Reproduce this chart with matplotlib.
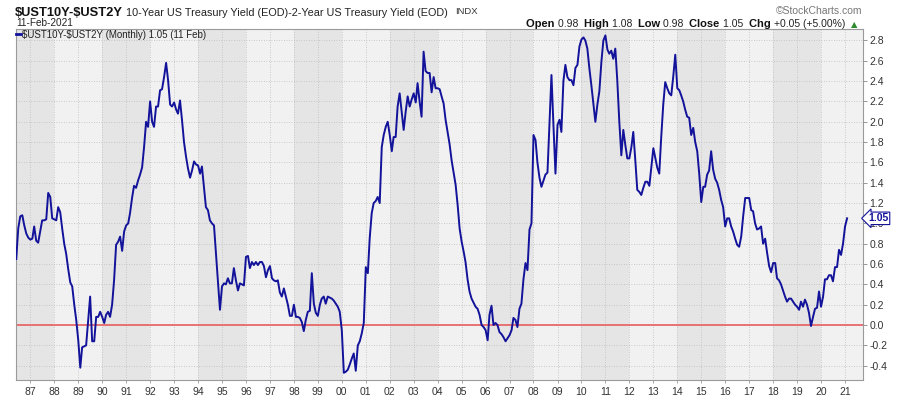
import matplotlib
matplotlib.use("Agg")
import matplotlib.pyplot as plt
import matplotlib.dates as mdates
from matplotlib.lines import Line2D
import numpy as np
import pandas as pd

# 10Y-2Y spread, month-end closes, from Jun 1986 to Feb 2021
start_month = "1986-06"
spread = [
    0.65, 0.95, 1.07, 1.08, 0.98, 0.90, 0.86,                            # 1986 (Jun-Dec)
    0.84, 0.85, 0.97, 0.83, 0.81, 0.92, 1.03, 1.03, 1.04, 1.30, 1.26, 1.05,  # 1987
    1.04, 1.03, 1.16, 1.11, 0.95, 0.80, 0.70, 0.55, 0.42, 0.38, 0.20, 0.05,  # 1988
    -0.15, -0.42, -0.22, -0.21, -0.20, 0.05, 0.28, -0.16, -0.16, 0.08, 0.08, 0.13,  # 1989
    0.08, 0.02, 0.10, 0.13, 0.08, 0.20, 0.44, 0.79, 0.82, 0.87, 0.73, 0.92,  # 1990
    0.98, 1.00, 1.10, 1.25, 1.37, 1.35, 1.42, 1.48, 1.55, 1.75, 2.00, 1.95,  # 1991
    2.20, 2.00, 1.95, 2.15, 2.15, 2.31, 2.32, 2.44, 2.58, 2.41, 2.17, 2.15,  # 1992
    2.19, 2.12, 2.08, 2.21, 2.02, 1.80, 1.66, 1.54, 1.45, 1.52, 1.61, 1.58,  # 1993
    1.57, 1.49, 1.56, 1.36, 1.16, 1.13, 1.03, 1.00, 0.98, 0.70, 0.42, 0.15,  # 1994
    0.38, 0.41, 0.40, 0.46, 0.41, 0.41, 0.56, 0.44, 0.34, 0.41, 0.40, 0.39,  # 1995
    0.67, 0.68, 0.56, 0.62, 0.59, 0.62, 0.59, 0.62, 0.62, 0.58, 0.47, 0.54,  # 1996
    0.58, 0.46, 0.44, 0.43, 0.44, 0.32, 0.28, 0.36, 0.28, 0.20, 0.09, 0.09,  # 1997
    0.20, 0.08, 0.08, 0.07, 0.03, -0.06, 0.05, 0.13, 0.14, 0.51, 0.21, 0.12,  # 1998
    0.09, 0.20, 0.26, 0.28, 0.21, 0.28, 0.27, 0.26, 0.24, 0.21, 0.18, 0.13,  # 1999
    -0.05, -0.47, -0.46, -0.44, -0.39, -0.33, -0.28, -0.45, -0.20, -0.16, -0.08, 0.02,  # 2000
    0.57, 0.51, 0.85, 1.10, 1.20, 1.22, 1.26, 1.20, 1.75, 1.87, 1.95, 2.00,  # 2001
    1.87, 1.71, 1.85, 1.85, 2.15, 2.28, 2.10, 1.92, 2.10, 2.25, 2.15, 2.22,  # 2002
    2.28, 2.19, 2.38, 2.20, 2.05, 2.69, 2.50, 2.48, 2.48, 2.29, 2.44, 2.33,  # 2003
    2.33, 2.32, 2.25, 2.18, 2.02, 1.90, 1.78, 1.62, 1.50, 1.38, 1.18, 0.95,  # 2004
    0.82, 0.72, 0.62, 0.45, 0.33, 0.26, 0.22, 0.18, 0.16, 0.10, 0.00, -0.02,  # 2005
    -0.05, -0.15, 0.10, 0.19, 0.00, 0.02, 0.00, -0.07, -0.09, -0.12, -0.16, -0.13,  # 2006
    -0.10, -0.05, 0.07, 0.05, -0.02, 0.16, 0.21, 0.45, 0.61, 0.54, 0.94, 1.00,  # 2007
    1.87, 1.82, 1.60, 1.45, 1.36, 1.42, 1.48, 1.50, 2.00, 2.46, 1.95, 1.49,  # 2008
    1.97, 2.02, 1.90, 2.40, 2.56, 2.44, 2.41, 2.41, 2.36, 2.53, 2.56, 2.74,  # 2009
    2.81, 2.83, 2.80, 2.72, 2.53, 2.36, 2.18, 2.00, 2.17, 2.30, 2.59, 2.80,  # 2010
    2.85, 2.71, 2.67, 2.70, 2.62, 2.72, 2.41, 2.00, 1.67, 1.92, 1.77, 1.64,  # 2011
    1.64, 1.75, 1.90, 1.62, 1.33, 1.31, 1.28, 1.35, 1.41, 1.41, 1.37, 1.55,  # 2012
    1.74, 1.64, 1.55, 1.49, 1.85, 2.17, 2.39, 2.33, 2.28, 2.26, 2.45, 2.66,  # 2013
    2.33, 2.31, 2.26, 2.20, 2.12, 2.05, 2.04, 1.87, 1.94, 1.80, 1.71, 1.49,  # 2014
    1.21, 1.36, 1.36, 1.48, 1.52, 1.71, 1.53, 1.44, 1.40, 1.33, 1.23, 1.16,  # 2015
    0.97, 1.05, 1.05, 0.97, 0.92, 0.85, 0.79, 0.77, 0.87, 1.07, 1.25, 1.25,  # 2016
    1.25, 1.13, 1.12, 1.00, 0.94, 0.95, 0.97, 0.80, 0.85, 0.71, 0.58, 0.52,  # 2017
    0.61, 0.61, 0.46, 0.44, 0.40, 0.34, 0.28, 0.23, 0.26, 0.26, 0.23, 0.20,  # 2018
    0.18, 0.15, 0.23, 0.18, 0.25, 0.20, 0.12, -0.01, 0.08, 0.16, 0.17, 0.33,  # 2019
    0.18, 0.28, 0.45, 0.45, 0.49, 0.49, 0.43, 0.57, 0.57, 0.74, 0.69, 0.80,  # 2020
    0.97, 1.05,                                                          # 2021 (Jan-Feb)
]

symbol = "$UST10Y-$UST2Y"
title_desc = "10-Year US Treasury Yield (EOD)-2-Year US Treasury Yield (EOD)"
exchange = "INDX"
date_label = "11-Feb-2021"
ohlc_names = ["Open", "High", "Low", "Close", "Chg"]
ohlc_values = ["0.98", "1.08", "0.98", "1.05", "+0.05 (+5.00%)"]
legend_label = "$UST10Y-$UST2Y (Monthly) 1.05 (11 Feb)"

W, H = 900, 396
line_color = "#12129a"
font = ["Liberation Sans", "DejaVu Sans"]
plt.rcParams["font.family"] = font

fig = plt.figure(figsize=(W / 100, H / 100), dpi=100)
fig.patch.set_facecolor("white")
ax = fig.add_axes([16 / W, 1 - 380 / H, (862.7 - 16) / W, (380 - 29) / H])
ax.set_facecolor("#f1f1f1")

dates = pd.date_range(start_month, periods=len(spread), freq="MS")

# alternating two-year shading
for y in range(1986, 2022, 4):
    ax.axvspan(pd.Timestamp(f"{y}-01-01"), pd.Timestamp(f"{y + 2}-01-01"),
               color="#e5e5e5", lw=0, zorder=0)

ax.axhline(0, color="#e8686a", lw=1.3, zorder=2)
ax.plot(dates, spread, color=line_color, lw=1.4, zorder=3)

ax.set_xlim(pd.Timestamp("1986-05-28"), pd.Timestamp("2021-09-27"))
ax.set_ylim(-0.541, 2.913)

ax.xaxis.set_major_locator(mdates.YearLocator())
ax.xaxis.set_major_formatter(mdates.DateFormatter("%y"))
ax.yaxis.tick_right()
ax.set_yticks(np.round(np.arange(-0.4, 2.81, 0.2), 1))
ax.yaxis.set_major_formatter(plt.FuncFormatter(lambda v, p: f"{v:.1f}"))
ax.tick_params(axis="y", length=3, width=0.6, color="#888888", labelsize=7.5,
               labelcolor="#333333", pad=2)
ax.tick_params(axis="x", length=2, width=0.6, color="#999999", labelsize=7.5,
               labelcolor="#333333", pad=3)
ax.grid(True, color="#bcbcbc", linestyle=(0, (1, 2)), linewidth=0.6, zorder=1)
ax.set_axisbelow(True)
for s in ax.spines.values():
    s.set_color("#9a9a9a")
    s.set_linewidth(0.8)

# last value tag on the right axis
ax.annotate(f"{spread[-1]:.2f}", xy=(1.0, spread[-1]), xycoords=("axes fraction", "data"),
            xytext=(4, 0), textcoords="offset points", ha="left", va="center",
            fontsize=7.5, fontweight="bold", color=line_color, zorder=6,
            bbox=dict(boxstyle="larrow,pad=0.12", fc="white", ec=line_color, lw=0.8),
            annotation_clip=False)


def px(x, y):
    return x / W, 1 - y / H


# legend inside the chart
fig.add_artist(Line2D([15.5 / W, 20.5 / W], [1 - 34.3 / H] * 2, color=line_color, lw=2))
fig.text(*px(22, 37.7), legend_label, fontsize=7, color="#222222", va="baseline",
         parse_math=False)

# header
renderer = fig.canvas.get_renderer()


def run(x_px, y_px, pieces):
    for txt, kw in pieces:
        t = fig.text(*px(x_px, y_px), txt, va="baseline", ha="left", parse_math=False, **kw)
        x_px += t.get_window_extent(renderer=renderer).width
    return x_px


run(15, 16.5, [(symbol, dict(fontsize=9.3, fontweight="bold", color="#111111")),
               (" " + title_desc, dict(fontsize=7.85, color="#222222"))])
fig.text(*px(455, 14), exchange, fontsize=6.8, color="#333333", va="baseline")
fig.text(*px(862, 14), "\u00a9StockCharts.com", fontsize=7.5, color="#777777",
         va="baseline", ha="right")
fig.text(*px(16, 26.5), date_label, fontsize=7.2, color="#222222", va="baseline")

pieces = []
for name, val in zip(ohlc_names, ohlc_values):
    pieces.append((name + " ", dict(fontsize=8, fontweight="bold", color="#111111")))
    pieces.append((val + "  ", dict(fontsize=7.5, color="#222222")))
pieces.append(("\u25b2", dict(fontsize=6, color="#2e8b2e", family=["DejaVu Sans"])))
run(526, 26.7, pieces)

fig.savefig("out.png", dpi=100)
